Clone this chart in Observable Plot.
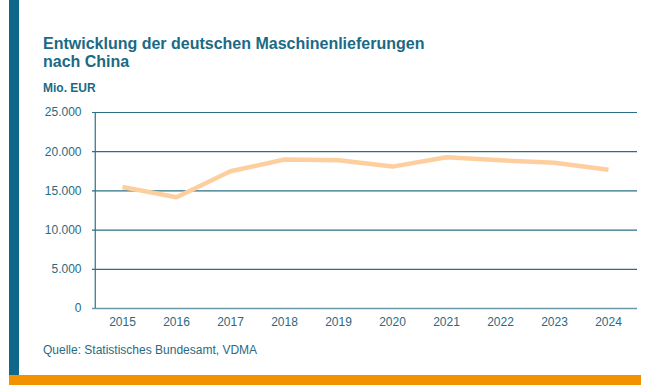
<!DOCTYPE html>
<html>
<head>
<meta charset="utf-8">
<script src="https://cdn.jsdelivr.net/npm/d3@7"></script>
<script src="https://cdn.jsdelivr.net/npm/@observablehq/plot@0.6"></script>
<style>
  html, body { margin: 0; padding: 0; background: #fff; }
  #wrap { position: relative; width: 657px; height: 392px; overflow: hidden; font-family: "Liberation Sans", Arial, sans-serif; }
  #leftbar { position: absolute; left: 9px; top: 0; width: 10px; height: 375px; background: #0f6889; }
  #bottombar { position: absolute; left: 9px; top: 375px; width: 632px; height: 10px; background: #f39200; }
  #title { position: absolute; left: 43px; top: 35px; font-size: 16px; font-weight: bold; color: #1a6a85; line-height: 18px; white-space: nowrap; }
  #unit { position: absolute; left: 43px; top: 81px; font-size: 12px; font-weight: bold; color: #1a6a85; line-height: 14px; }
  #chart { position: absolute; left: 0; top: 100px; }
  #caption { position: absolute; left: 43px; top: 343px; font-size: 12px; color: #2a6a80; line-height: 14px; white-space: nowrap; }
</style>
</head>
<body>
<div id="wrap">
  <div id="leftbar"></div>
  <div id="bottombar"></div>
  <div id="title">Entwicklung der deutschen Maschinenlieferungen<br>nach China</div>
  <div id="unit">Mio. EUR</div>
  <div id="chart"></div>
  <div id="caption">Quelle: Statistisches Bundesamt, VDMA</div>
</div>
<script>
const years = ["2015","2016","2017","2018","2019","2020","2021","2022","2023","2024"];
const values = [15500, 14200, 17500, 19000, 18900, 18100, 19300, 18900, 18600, 17700];
const yTicks = [0, 5000, 10000, 15000, 20000, 25000];

const data = years.map((y, i) => ({year: y, value: values[i]}));
const de = d3.formatLocale({decimal: ",", thousands: ".", grouping: [3], currency: ["", " €"]});
const fmt = de.format(",");
const gridColor = "#2b6f86";
const textColor = "#2a6a80";

const chart = Plot.plot({
  width: 657,
  height: 235,
  marginLeft: 92,
  marginRight: 20,
  marginTop: 12,
  marginBottom: 27,
  style: {fontFamily: "'Liberation Sans', Arial, sans-serif", fontSize: "12px", color: textColor, background: "transparent"},
  x: {type: "point", domain: years, padding: 0.5, label: null},
  y: {domain: [0, 25000], ticks: yTicks, label: null},
  marks: [
    Plot.ruleY(yTicks.filter(d => d > 0), {stroke: gridColor, strokeWidth: 1.2}),
    Plot.ruleY([0], {stroke: "#6a98a8", strokeWidth: 1.5}),
    Plot.ruleX([years[0]], {stroke: gridColor, strokeWidth: 1.2, dx: -27.25, y1: 0, y2: 25000}),
    Plot.axisY({ticks: yTicks, tickSize: 0, tickPadding: 11, tickFormat: fmt, fill: textColor, fontSize: 12}),
    Plot.axisX({tickSize: 0, tickPadding: 9, fill: textColor, fontSize: 12}),
    Plot.line(data, {x: "year", y: "value", stroke: "#fdcf9e", strokeWidth: 4.5, strokeLinejoin: "round", strokeLinecap: "butt"})
  ]
});
document.getElementById("chart").appendChild(chart);
</script>
</body>
</html>
